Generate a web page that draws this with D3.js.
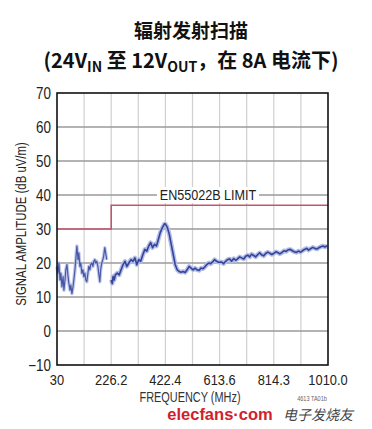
<!DOCTYPE html>
<html><head><meta charset="utf-8">
<script src="https://cdn.jsdelivr.net/npm/d3@7"></script>
<style>
body{margin:0;background:#fff;}
svg{display:block;}
</style></head>
<body>
<svg id="c" width="372" height="429"></svg>
<script>
const titleLine1 = "辐射发射扫描";
const xTickValues = [30, 226.2, 422.4, 613.6, 814.3, 1010.0];
const xTickLabels = ["30", "226.2", "422.4", "613.6", "814.3", "1010.0"];
const yTickValues = [-10, 0, 10, 20, 30, 40, 50, 60, 70];
const limitFreq = [30, 226.2, 226.2, 1010];
const limitDb = [30, 30, 37, 37];
const seg1Freq = [30,33.6,37,41,44,48,52,55,59,62,66,70,73,77,80,84,88,91,95,98,102,106,109,113,116,120,124,127,131,134,138,142,145,149,152,156,160,163,167,170,174,178,181,185,188,192,196,199,203,206,210];
const seg1Db = [19,17,20,15,17,13,16,12,15,18,19.5,16,14,12,13.5,11,13,15,18,21,25,21,23,19,20,17,18,16,17,15,14.5,17,19,18,19.5,20,19,20.5,21,20,20.5,19,17,14.5,18,20,21,22,24.5,23,21];
const seg2Freq = [226,230,233,237,241,248,255,262,269,276,283,290,298,305,312,319,326,333,341,348,355,362,369,376,383,390,397,404,412,419,422,429,436,443,450,457,464,471,478,485,492,499,506,513,520,527,534,541,548,555,561,568,575,582,589,596,603,610,621,628,636,643,651,658,666,673,680,688,695,703,710,718,725,732,740,747,755,762,769,777,784,792,799,807,814,822,830,836,844,851,859,866,874,881,888,896,903,911,918,925,933,940,947,955,962,970,977,984,992,999,1007];
const seg2Db = [15,14,16,15,16.5,17,16.5,18,19.5,20.5,19,20,21,20.5,21.5,19.5,21,20.5,22.5,24,23.5,25,26,24.5,25.5,25,27,29,30.5,31.5,31.5,30.5,28.5,25.5,22.5,19.5,18,17.5,17.3,17.5,17.2,18,19,18.5,18,18.5,18,17.8,18.5,18.3,18.8,19.5,20,19.8,20.3,21,20.5,20.2,20.3,19.8,20.5,21,21.2,20.5,21.3,20.8,21.2,21.8,21.5,21.2,22,22.3,21.8,22.6,22.2,21.8,22.5,23,22.4,22.1,22.8,23.2,22.9,22.5,22.8,23.3,23,22.7,23.1,23.6,23.4,23.9,24,23.6,23.3,23.1,23.5,23.2,23.6,24,24.3,23.8,24.2,24.6,24.3,24.1,24.5,24.8,25,24.7,25.1];

const svg = d3.select("#c");
const L = 57, R = 328, T = 93, B = 365;
const x = d3.scaleLinear().domain(xTickValues).range(xTickValues.map((d,i)=>L + (R-L)*i/(xTickValues.length-1)));
const y = d3.scaleLinear().domain([-10,70]).range([B,T]);
const sans = "'Liberation Sans',Arial,sans-serif";

function ctext(g, tx, ty, s, txt, size, anchor, fill, rot){
  return g.append("text")
    .attr("transform",`translate(${tx},${ty})${rot?` rotate(${rot})`:""} scale(${s},1)`)
    .attr("text-anchor",anchor).attr("font-family",sans).attr("font-size",size)
    .attr("fill",fill).text(txt);
}

// title
svg.append("text").attr("x",191).attr("y",38).attr("text-anchor","middle")
  .attr("font-family","'Noto Sans CJK SC',sans-serif").attr("font-weight","bold").attr("font-size",19)
  .attr("fill","#111").text(titleLine1);
const t2 = svg.append("text").attr("x",191).attr("y",68).attr("text-anchor","middle")
  .attr("font-family","'Noto Sans CJK SC',sans-serif").attr("font-weight","bold").attr("font-size",20).attr("fill","#111");
t2.append("tspan").text("(24V");
t2.append("tspan").attr("font-size",14).attr("dy",4).text("IN");
t2.append("tspan").attr("dy",-4).text(" 至 12V");
t2.append("tspan").attr("font-size",14).attr("dy",4).text("OUT");
t2.append("tspan").attr("dy",-4).text("，在 8A 电流下)");

// vertical grid
const xDivs = d3.range(1,10).map(i => L + (R-L)*i/10);
svg.append("g").selectAll("line").data(xDivs).join("line")
  .attr("x1",d=>d).attr("x2",d=>d).attr("y1",T).attr("y2",B)
  .attr("stroke","#d0d0d0").attr("stroke-width",1.2);
// horizontal grid
svg.append("g").selectAll("line").data(yTickValues.filter(v=>v>-10&&v<70)).join("line")
  .attr("x1",L).attr("x2",R).attr("y1",d=>y(d)).attr("y2",d=>y(d))
  .attr("stroke","#9a9a9a").attr("stroke-width",1.5);

// limit line
const limitPts = limitFreq.map((f,i)=>[f,limitDb[i]]);
svg.append("path").datum(limitPts)
  .attr("d", d3.line().x(d=>x(d[0])).y(d=>y(d[1])))
  .attr("fill","none").attr("stroke","#c2566e").attr("stroke-width",1.6);

// label
const lblX = 208, lblY = y(40);
svg.append("rect").attr("x",lblX-51).attr("y",lblY-8).attr("width",102).attr("height",16).attr("fill","#fff");
ctext(svg, lblX, lblY+5, 0.9, "EN55022B LIMIT", 14, "middle", "#222");

// traces
const line = d3.line().x(d=>x(d[0])).y(d=>y(d[1]));
const s1 = seg1Freq.map((f,i)=>[f,seg1Db[i]]);
const s2 = seg2Freq.map((f,i)=>[f,seg2Db[i]]);
[s1,s2].forEach((s,k)=>{
  svg.append("path").datum(s).attr("d",line).attr("fill","none")
    .attr("stroke","#b3bde6").attr("stroke-width",k?4.5:3.5).attr("stroke-linejoin","round").attr("opacity",k?1:0.8);
  svg.append("path").datum(s).attr("d",line).attr("fill","none")
    .attr("stroke","#34449a").attr("stroke-width",k?1.6:1.2).attr("stroke-linejoin","round").attr("opacity",k?1:0.85);
});

// frame
svg.append("rect").attr("x",L).attr("y",T).attr("width",R-L).attr("height",B-T)
  .attr("fill","none").attr("stroke","#111").attr("stroke-width",1.6);

// y tick labels
yTickValues.forEach(d=>{
  ctext(svg, L-6, y(d)+6, 0.84, d<0?"\u2212"+Math.abs(d):String(d), 16, "end", "#222");
});
// x tick labels
xTickValues.forEach((d,i)=>{
  ctext(svg, x(d), 385, 0.83, xTickLabels[i], 15.5, "middle", "#222");
});

// axis titles
ctext(svg, 26, 224, 0.76, "SIGNAL AMPLITUDE (dB uV/m)", 15, "middle", "#222", -90);
ctext(svg, 190, 401.5, 0.78, "FREQUENCY (MHz)", 14, "middle", "#333");
ctext(svg, 312, 401, 0.85, "4613 TA01b", 6.5, "middle", "#666");

// watermark
svg.append("text").attr("x",220).attr("y",420).attr("text-anchor","middle")
  .attr("font-family",sans).attr("font-weight","bold").attr("font-size",16.5)
  .attr("fill","#d2202a").text("elecfans·com");
svg.append("text").attr("x",318).attr("y",420).attr("text-anchor","middle")
  .attr("font-family","'Noto Sans CJK SC',sans-serif").attr("font-size",14)
  .attr("fill","#444").attr("font-style","italic").text("电子发烧友");
</script>
</body></html>
